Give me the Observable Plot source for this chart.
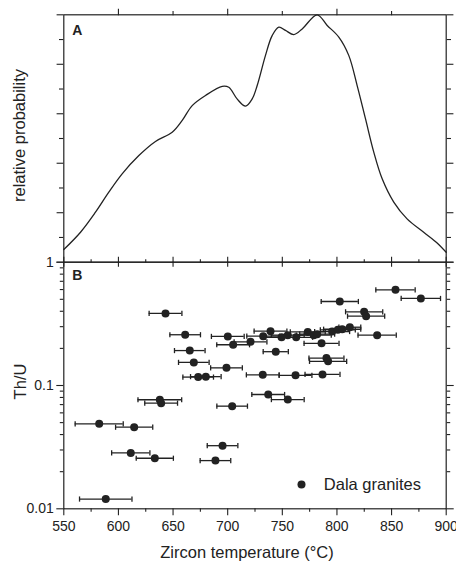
<!DOCTYPE html>
<html><head><meta charset="utf-8">
<script src="https://cdn.jsdelivr.net/npm/d3@7"></script>
<script src="https://cdn.jsdelivr.net/npm/@observablehq/plot@0.6"></script>
<style>
body{margin:0;background:#fff;}
#wrap{position:relative;width:456px;height:561px;}
#wrap svg{position:absolute;left:0;top:0;background:transparent;overflow:visible;}
</style></head><body><div id="wrap"></div>
<script>
// Panel A: relative probability curve
const curveT = [550, 565.3, 579, 591.2, 603.4, 618.7, 633.9, 649.2, 658.4, 667.5, 679.7, 695, 701, 708.6, 716.3, 722.4, 727, 734.6, 740.7, 746.8, 752.9, 760.5, 768.2, 781.9, 791.1, 801.7, 810.8, 818.5, 826.1, 833.7, 841.4, 852, 864.2, 879.4, 891.7, 900];
const curveP = [0.051, 0.121, 0.202, 0.283, 0.357, 0.431, 0.488, 0.525, 0.573, 0.633, 0.674, 0.711, 0.707, 0.66, 0.631, 0.66, 0.714, 0.836, 0.916, 0.95, 0.937, 0.92, 0.943, 1.0, 0.957, 0.91, 0.836, 0.714, 0.58, 0.445, 0.337, 0.243, 0.175, 0.121, 0.078, 0.04];

// Panel B: Th/U vs zircon temperature (Dala granites)
const temperature = [643.1, 661.1, 700.1, 705, 720.9, 665.3, 669, 698.9, 673, 680, 853.6, 876.8, 802.6, 824.9, 826.7, 811.8, 836.8, 739.2, 732.5, 749.3, 755, 762.7, 773.3, 778.8, 781.9, 795.6, 800.8, 804.8, 785.9, 744, 790.4, 791.9, 732.1, 762.1, 786.8, 637.9, 639.1, 704.1, 582.4, 614.4, 695.3, 611.3, 633.3, 688.8, 588.4, 737.1, 755];
const thu = [0.384, 0.258, 0.25, 0.214, 0.226, 0.192, 0.154, 0.139, 0.117, 0.118, 0.597, 0.508, 0.48, 0.396, 0.365, 0.297, 0.256, 0.276, 0.251, 0.246, 0.256, 0.246, 0.272, 0.256, 0.261, 0.274, 0.283, 0.286, 0.22, 0.188, 0.167, 0.157, 0.122, 0.121, 0.123, 0.0766, 0.0719, 0.068, 0.0489, 0.0459, 0.0325, 0.0284, 0.0257, 0.0246, 0.012, 0.0845, 0.0769];
const tErr = [15, 14, 15, 15, 15, 14, 14, 14.5, 14, 14, 18, 18, 17, 17, 17, 10, 17.5, 15, 15, 15, 15, 15, 16, 16, 16, 16, 16, 17, 16, 11.5, 16, 17, 15, 15, 16, 20, 15, 14, 22, 17, 14, 17.5, 17, 14, 24, 15, 15];

// Ticks and labels
const xMajor = [550, 600, 650, 700, 750, 800, 850, 900];
const xMinor = [575, 625, 675, 725, 775, 825, 875];
const xTopMajorA = [600, 700, 800];
const xTopMinorA = [650, 750, 850];
const yMajorA = [0, 0.2, 0.4, 0.6, 0.8, 1];
const yMinorA = [0.1, 0.3, 0.5, 0.7, 0.9];
const yMajorB = [0.01, 0.1, 1];
const yMajorBLabels = ["0.01", "0.1", "1"];
const yMinorB = [0.02, 0.03, 0.04, 0.05, 0.06, 0.07, 0.08, 0.09, 0.2, 0.3, 0.4, 0.5, 0.6, 0.7, 0.8, 0.9];
const xTitle = "Zircon temperature (°C)";
const yTitleA = "relative probability";
const yTitleB = "Th/U";
const seriesName = "Dala granites";

const ink = "#222";
const font = "'Liberation Sans', Arial, Helvetica, sans-serif";
const W = 456, H = 561, ML = 63.3, MR = 10.3;
const topA = 14.3, mid = 261.7, botB = 508.3;
const blank = () => "";

const common = {
  width: W, height: H, marginLeft: ML, marginRight: MR,
  x: {domain: [550, 900]},
  style: {fontFamily: font, color: ink, background: "transparent", overflow: "visible"}
};

const plotA = Plot.plot({
  ...common,
  marginTop: topA, marginBottom: H - mid,
  y: {domain: [0, 1]},
  marks: [
    Plot.line(curveT.map((t, i) => i), {x: i => curveT[i], y: i => curveP[i], curve: "catmull-rom", stroke: ink, strokeWidth: 1.3}),
    Plot.axisY({anchor: "left", ticks: yMajorA, tickSize: 6.7, tickFormat: blank, label: null, strokeWidth: 1.1}),
    Plot.axisY({anchor: "left", ticks: yMinorA, tickSize: 4.3, tickFormat: blank, label: null, strokeWidth: 1.1}),
    Plot.axisY({anchor: "right", ticks: yMajorA, tickSize: 6.7, tickFormat: blank, label: null, strokeWidth: 1.1}),
    Plot.axisY({anchor: "right", ticks: yMinorA, tickSize: 4.3, tickFormat: blank, label: null, strokeWidth: 1.1}),
    Plot.axisX({anchor: "top", ticks: xTopMajorA, tickSize: 6.6, tickFormat: blank, label: null, strokeWidth: 1.1}),
    Plot.axisX({anchor: "top", ticks: xTopMinorA, tickSize: 4.3, tickFormat: blank, label: null, strokeWidth: 1.1}),
    Plot.axisX({anchor: "bottom", ticks: xMajor, tickSize: 5, tickFormat: blank, label: null, strokeWidth: 1.1}),
    Plot.frame({stroke: ink, strokeWidth: 1.2}),
    Plot.text(["A"], {frameAnchor: "top-left", dx: 8.5, dy: 10.7, lineAnchor: "top", textAnchor: "start", fontWeight: "bold", fontSize: 14, fill: ink}),
    Plot.text([yTitleA], {frameAnchor: "left", dx: -44, dy: -3, rotate: -90, textAnchor: "middle", lineAnchor: "middle", fontSize: 16.5, fill: ink})
  ]
});

const vbar = {draw(ctx, size) { const h = Math.sqrt(size / Math.PI); ctx.moveTo(0, -h); ctx.lineTo(0, h); }};
const idx = temperature.map((t, i) => i);

const plotB = Plot.plot({
  ...common,
  marginTop: mid, marginBottom: H - botB,
  y: {type: "log", domain: [0.01, 1]},
  marks: [
    Plot.ruleY(idx, {x1: i => temperature[i] - tErr[i], x2: i => temperature[i] + tErr[i], y: i => thu[i], stroke: ink, strokeWidth: 1.3}),
    Plot.dot(idx, {x: i => temperature[i] - tErr[i], y: i => thu[i], symbol: vbar, r: 2.6, stroke: ink, strokeWidth: 1.3}),
    Plot.dot(idx, {x: i => temperature[i] + tErr[i], y: i => thu[i], symbol: vbar, r: 2.6, stroke: ink, strokeWidth: 1.3}),
    Plot.dot(idx, {x: i => temperature[i], y: i => thu[i], r: 4, fill: ink, stroke: null}),
    Plot.axisY({anchor: "left", ticks: yMajorB, tickSize: 7, tickPadding: 3, tickFormat: (d) => yMajorBLabels[yMajorB.indexOf(d)], label: null, fontSize: 14, strokeWidth: 1.1}),
    Plot.axisY({anchor: "left", ticks: yMinorB, tickSize: 3.5, tickFormat: blank, label: null, strokeWidth: 1.1}),
    Plot.axisY({anchor: "right", ticks: yMajorB, tickSize: 7, tickFormat: blank, label: null, strokeWidth: 1.1}),
    Plot.axisY({anchor: "right", ticks: yMinorB, tickSize: 3.5, tickFormat: blank, label: null, strokeWidth: 1.1}),
    Plot.axisX({anchor: "bottom", ticks: xMajor, tickSize: 7, tickPadding: 5.4, tickFormat: d => String(d), label: null, fontSize: 14, strokeWidth: 1.1}),
    Plot.axisX({anchor: "bottom", ticks: xMinor, tickSize: 3.5, tickFormat: blank, label: null, strokeWidth: 1.1}),
    Plot.axisX({anchor: "top", ticks: xMajor, tickSize: 6, tickFormat: blank, label: null, strokeWidth: 1.1}),
    Plot.axisX({anchor: "top", ticks: xMinor, tickSize: 3.5, tickFormat: blank, label: null, strokeWidth: 1.1}),
    Plot.frame({stroke: ink, strokeWidth: 1.2}),
    Plot.text(["B"], {frameAnchor: "top-left", dx: 8.5, dy: 7.6, lineAnchor: "top", textAnchor: "start", fontWeight: "bold", fontSize: 14, fill: ink}),
    Plot.text([yTitleB], {frameAnchor: "left", dx: -43.3, dy: -4, rotate: -90, textAnchor: "middle", lineAnchor: "middle", fontSize: 16.5, fill: ink}),
    Plot.text([xTitle], {frameAnchor: "bottom", dx: -8, dy: 37.5, lineAnchor: "top", textAnchor: "middle", fontSize: 16.5, fill: ink}),
    Plot.dot([seriesName], {frameAnchor: "bottom-left", dx: 237.7, dy: -24.3, r: 4, fill: ink, stroke: null}),
    Plot.text([seriesName], {frameAnchor: "bottom-left", dx: 260, dy: -24.3, textAnchor: "start", lineAnchor: "middle", fontSize: 16.5, fill: ink})
  ]
});

const wrap = document.getElementById("wrap");
wrap.appendChild(plotA);
wrap.appendChild(plotB);
</script>
</body></html>
